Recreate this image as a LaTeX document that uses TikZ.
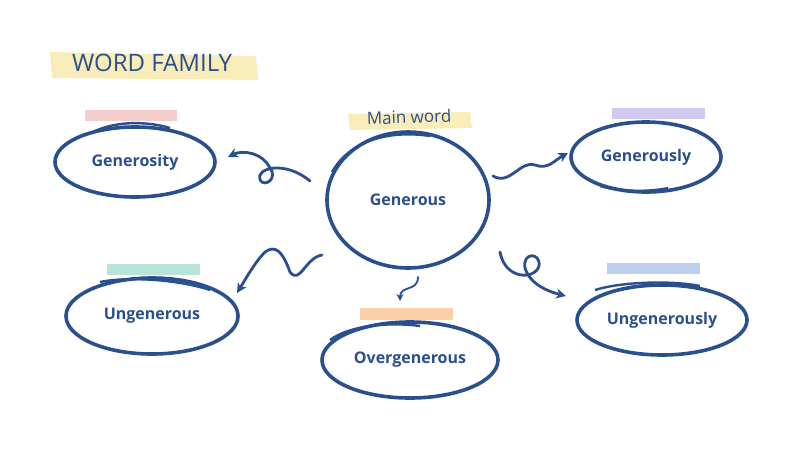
\documentclass[tikz,border=0pt]{standalone}
\usepackage{fontspec}
\setmainfont{Open Sans}
\definecolor{ink}{HTML}{2A4F8E}
\definecolor{hlYellow}{HTML}{F8EDB8}
\definecolor{hlPink}{HTML}{F4CDCD}
\definecolor{hlTeal}{HTML}{B8E3D8}
\definecolor{hlOrange}{HTML}{F9D0A8}
\definecolor{hlPurple}{HTML}{D2C9F1}
\definecolor{hlBlue}{HTML}{BBCFEF}
\tikzset{
  word/.style={draw=ink, line width=3.6pt, ellipse, font=\bfseries\fontsize{16}{16}\selectfont, text=ink},
  link/.style={draw=ink, line width=2.8pt, line cap=round, -{Stealth[length=10pt,width=10pt]}},
  bar/.style={line width=0pt}
}
\usetikzlibrary{shapes.geometric,arrows.meta}
\begin{document}
\begin{tikzpicture}[x=1pt,y=-1pt]
   \useasboundingbox (0,0) rectangle (800,450);
   % highlight bars
   \fill[hlYellow] (50,52)--(256,56)--(258,80)--(52,78)--cycle;
   \fill[hlYellow] (348,114)--(470,112)--(472,128)--(350,130)--cycle;
   \fill[hlPink] (85,110) rectangle (177,121);
   \fill[hlPurple] (612,108) rectangle (705,119);
   \fill[hlTeal] (107,264) rectangle (200,275);
   \fill[hlOrange] (360,308) rectangle (453,320);
   \fill[hlBlue] (607,263) rectangle (700,274);
   \node[text=ink, font=\fontsize{24}{24}\selectfont] (title) at (152,63) {WORD FAMILY};
   \node[text=ink, font=\fontsize{17}{17}\selectfont, rotate=2] (mainlbl) at (409,117) {Main word};

   % words
   \node[word, minimum width=162pt, minimum height=136pt] (gen) at (408,200) {Generous};
   \node[word, minimum width=160pt, minimum height=70pt] (gty) at (135,162) {Generosity};
   \node[word, minimum width=150pt, minimum height=70pt] (gly) at (646,157) {Generously};
   \node[word, minimum width=172pt, minimum height=76pt] (ung) at (152,316) {Ungenerous};
   \node[word, minimum width=176pt, minimum height=76pt] (ovg) at (410,360) {Overgenerous};
   \node[word, minimum width=170pt, minimum height=70pt] (ugly) at (662,320) {Ungenerously};

   % second strokes
   \draw[ink, line width=2.4pt] (332,172) .. controls (350,140) and (390,130) .. (430,136);
   \draw[ink, line width=2.4pt] (95,131) .. controls (120,120) and (150,122) .. (170,128);
   \draw[ink, line width=2.4pt] (600,186) .. controls (620,192) and (650,192) .. (668,188);
   \draw[ink, line width=2.4pt] (100,282) .. controls (130,276) and (180,280) .. (210,290);
   \draw[ink, line width=2.4pt] (330,340) .. controls (350,325) and (390,322) .. (420,326);
   \draw[ink, line width=2.4pt] (595,290) .. controls (620,282) and (670,280) .. (700,286);

   % connectors
   \coordinate (s1) at (310,181); \coordinate (e1) at (228,157);
   \coordinate (s2) at (493,176); \coordinate (e2) at (568,153);
   \coordinate (s3) at (322,255); \coordinate (e3) at (237,293);
   \coordinate (s4) at (418,277); \coordinate (e4) at (400,301);
   \coordinate (s5) at (500,252); \coordinate (e5) at (566,296);
   \draw[link] (s1) .. controls (285,160) and (255,168) .. (260,180) .. controls (265,188) and (278,178) .. (270,168) .. controls (262,152) and (242,150) .. (e1);
   \draw[link] (s2) .. controls (510,186) and (520,160) .. (535,165) .. controls (548,170) and (555,160) .. (e2);
   \draw[link] (s3) .. controls (305,258) and (300,285) .. (290,272) .. controls (282,250) and (275,245) .. (265,252) .. controls (255,262) and (245,280) .. (e3);
   \draw[link, line width=1.8pt, -{Stealth[length=7pt,width=7pt]}] (s4) .. controls (418,292) and (400,285) .. (e4);
   \draw[link] (s5) .. controls (505,280) and (535,280) .. (539,266) .. controls (541,252) and (522,252) .. (525,268) .. controls (530,285) and (550,292) .. (e5);
\end{tikzpicture}
\end{document}
